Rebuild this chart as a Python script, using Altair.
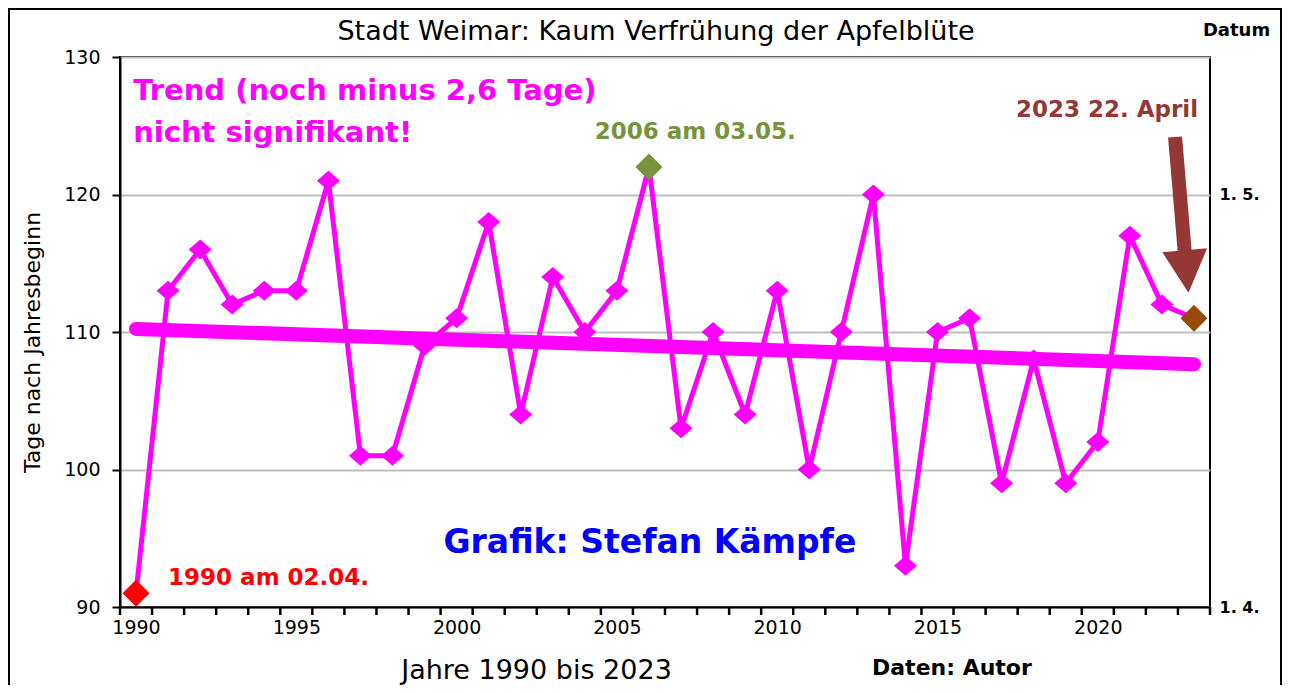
import altair as alt
import pandas as pd

# ---------------- data ----------------
years = list(range(1990, 2024))
days = [91, 113, 116, 112, 113, 113, 121, 101, 101, 109, 111, 118, 104, 114, 110,
        113, 122, 103, 110, 104, 113, 100, 110, 120, 93, 110, 111, 99, 108, 99,
        102, 117, 112, 111]

hl_years = [1990, 2006, 2023]
hl_days = [91, 122, 111]
hl_colors = ["#FF0000", "#77933C", "#984807"]

label_years = [1990, 1995, 2000, 2005, 2010, 2015, 2020]
left_ticks = [90, 100, 110, 120, 130]
right_ticks = [90, 120]
right_labels = ["1. 4.", "1. 5."]

ann_text = ["Stadt Weimar: Kaum Verfrühung der Apfelblüte",
            "Trend (noch minus 2,6 Tage)", "nicht signifikant!",
            "1990 am 02.04.", "2006 am 03.05.", "2023 22. April",
            "Grafik: Stefan Kämpfe", "Daten: Autor"]
ann_x = [2006.22, 1989.91, 1989.91, 1991.0, 2007.44, 2023.13, 2006.03, 2015.45]
ann_y = [131.24, 126.87, 123.82, 91.6, 124.04, 125.64, 93.93, 85.05]
ann_color = ["#000000", "#FF00FF", "#FF00FF", "#FF0000", "#77933C", "#953735",
             "#0000FF", "#000000"]
ann_size = [27, 29, 29, 23, 23, 23, 33, 22]
ann_align = ["center", "left", "left", "left", "center", "right", "center", "center"]
ann_weight = ["normal", "bold", "bold", "bold", "bold", "bold", "bold", "bold"]

# arrow pointing at 2023
arrow_x, arrow_y = [2022.41], [124.18]
arrow_x2, arrow_y2 = [2022.72], [115.6]
head_x, head_y = [2022.77], [114.4]

# ---------------- tables ----------------
df = pd.DataFrame({"year": years, "days": days})
hl = pd.DataFrame({"year": hl_years, "days": hl_days, "color": hl_colors})
ann = pd.DataFrame({"text": ann_text, "x": ann_x, "y": ann_y, "color": ann_color,
                    "size": ann_size, "align": ann_align, "weight": ann_weight})
arrow = pd.DataFrame({"x": arrow_x, "y": arrow_y, "x2": arrow_x2, "y2": arrow_y2})
head = pd.DataFrame({"x": head_x, "y": head_y})

FONT = "DejaVu Sans"
W, H = 1090, 550
Y0, Y1 = 90, 130
TICK = 8
xs = alt.Scale(domain=[1989.5, 2023.5], nice=False, zero=False)
ys = alt.Scale(domain=[Y0, Y1], nice=False, zero=False)

# category boundaries of the year axis (Excel-style ticks between categories),
# each tick reaching TICK pixels below the axis line
tick_len = TICK * (Y1 - Y0) / H
bounds = pd.DataFrame({"b": [y - 0.5 for y in years] + [years[-1] + 0.5]})
bounds["top"] = Y0
bounds["bottom"] = Y0 - tick_len

x_axis = alt.Axis(
    orient="bottom", values=label_years, format="d",
    ticks=False, tickSize=TICK,
    labelOverlap=False, labelFlush=False, grid=False,
    domainColor="black", domainWidth=2,
    labelFont=FONT, labelFontSize=19, labelColor="black", labelPadding=11,
    title="Jahre 1990 bis 2023", titleFont=FONT, titleFontSize=27,
    titleFontWeight="normal", titleColor="black",
    titleX=416, titleY=71, titleAlign="center", titleBaseline="alphabetic",
)

y_axis = alt.Axis(
    values=left_ticks, grid=True, gridColor="#BFBFBF", gridWidth=2,
    tickSize=8, tickWidth=2, tickColor="black",
    domainColor="black", domainWidth=2,
    labelFont=FONT, labelFontSize=19, labelColor="black", labelPadding=12,
    title="Tage nach Jahresbeginn", titleFont=FONT, titleFontSize=22,
    titleFontWeight="normal", titleColor="black", titleAngle=270,
    titleX=-88, titleY=285, titleAlign="center", titleBaseline="middle",
)

expr = " : ".join(
    [f"datum.value == {v} ? '{l}'" for v, l in zip(right_ticks, right_labels)]
) + " : ''"
y_axis_right = alt.Axis(
    orient="right", values=right_ticks, labelExpr=expr, grid=False,
    ticks=False, tickSize=0, domain=False,
    labelFont=FONT, labelFontSize=16, labelFontWeight="bold", labelColor="black",
    labelPadding=9, labelBaseline="middle",
    title="Datum", titleFont=FONT, titleFontSize=18, titleFontWeight="bold",
    titleColor="black", titleAngle=0, titleX=26, titleY=-27,
    titleAlign="center", titleBaseline="middle",
)

MAGENTA = "#FF00FF"
base = alt.Chart(df)

frame = alt.Chart(pd.DataFrame({"a": [0]})).mark_rect(
    fillOpacity=0, stroke="black", strokeWidth=2
).encode(x=alt.value(-111), x2=alt.value(1161), y=alt.value(-48), y2=alt.value(645))

xticks = alt.Chart(bounds).mark_rule(color="black", strokeWidth=2.5, opacity=1).encode(
    x=alt.X("b:Q", scale=xs, axis=None),
    y=alt.Y("top:Q", scale=ys, axis=None),
    y2="bottom:Q",
)

line = base.mark_line(color=MAGENTA, strokeWidth=5).encode(
    x=alt.X("year:Q", scale=xs, axis=x_axis),
    y=alt.Y("days:Q", scale=ys, axis=y_axis),
)

trend = base.transform_regression("year", "days").mark_line(
    color=MAGENTA, strokeWidth=14, strokeCap="round"
).encode(
    x=alt.X("year:Q", scale=xs, axis=None),
    y=alt.Y("days:Q", scale=ys, axis=None),
)

pts = base.mark_point(
    shape="M -1 0 L 0 -0.87 L 1 0 L 0 0.87 Z", size=529, filled=True,
    color=MAGENTA, opacity=1
).encode(
    x=alt.X("year:Q", scale=xs, axis=None),
    y=alt.Y("days:Q", scale=ys, axis=None),
)

hl_pts = alt.Chart(hl).mark_point(
    shape="M -1 0 L 0 -1 L 1 0 L 0 1 Z", size=729, filled=True, opacity=1
).encode(
    x=alt.X("year:Q", scale=xs, axis=None),
    y=alt.Y("days:Q", scale=ys, axis=None),
    color=alt.Color("color:N", scale=None),
)

shaft = alt.Chart(arrow).mark_rule(color="#953735", strokeWidth=14).encode(
    x=alt.X("x:Q", scale=xs, axis=None),
    y=alt.Y("y:Q", scale=ys, axis=None),
    x2="x2:Q", y2="y2:Q",
)

arrowhead = alt.Chart(head).mark_point(
    shape="M -1 -0.95 L 1 -0.95 L 0 0.95 Z", size=2025, filled=True,
    color="#953735", opacity=1, angle=355
).encode(
    x=alt.X("x:Q", scale=xs, axis=None),
    y=alt.Y("y:Q", scale=ys, axis=None),
)

text_layers = []
for al in ["left", "center", "right"]:
    for wt in ["normal", "bold"]:
        sub = ann[(ann["align"] == al) & (ann["weight"] == wt)]
        if len(sub) == 0:
            continue
        text_layers.append(
            alt.Chart(sub).mark_text(
                font=FONT, fontWeight=wt, align=al, baseline="alphabetic"
            ).encode(
                x=alt.X("x:Q", scale=xs, axis=None),
                y=alt.Y("y:Q", scale=ys, axis=None),
                text="text:N",
                color=alt.Color("color:N", scale=None),
                size=alt.Size("size:Q", scale=None),
            )
        )

right_axis = base.mark_point(opacity=0).encode(
    x=alt.X("year:Q", scale=xs, axis=None),
    y=alt.Y("days:Q", scale=ys, axis=y_axis_right),
)

chart = alt.layer(
    frame, line, trend, pts, hl_pts, shaft, arrowhead, *text_layers, right_axis, xticks
).resolve_axis(x="independent", y="independent").properties(
    width=W, height=H,
    autosize=alt.AutoSizeParams(type="none"),
    padding={"left": 112, "top": 49, "right": 72, "bottom": 78},
    background="white",
).configure_view(stroke="black", strokeWidth=2)

chart.save("out.html", embed_options={"renderer": "svg", "actions": False})
